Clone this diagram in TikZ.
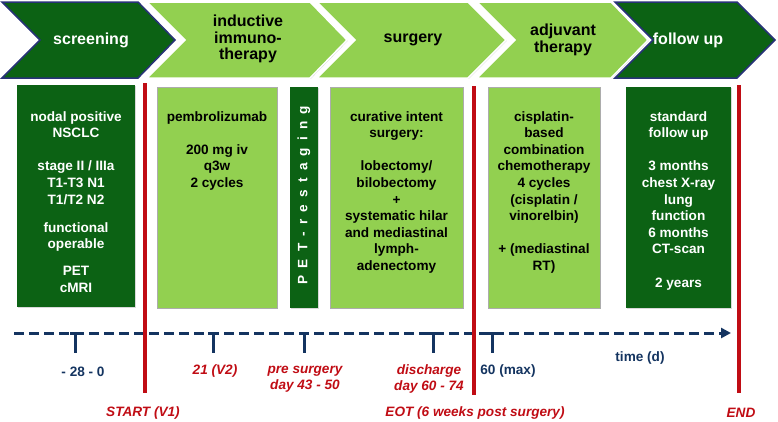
\documentclass[tikz,border=0pt]{standalone}
\usepackage{fontspec}
\setmainfont{Liberation Sans}
\usetikzlibrary{arrows.meta,shadows}
\definecolor{dkgreen}{RGB}{12,98,20}
\definecolor{ltgreen}{RGB}{146,208,80}
\definecolor{myred}{RGB}{192,12,20}
\definecolor{navy}{RGB}{20,52,96}
\definecolor{chevline}{RGB}{40,50,120}
\newcommand\lsp{\hspace{7.2pt}}
\begin{document}
\begin{tikzpicture}[x=1pt,y=-1pt,
  chevdark/.style={fill=dkgreen, draw=chevline, line width=1.5pt, line join=miter},
  chevlight/.style={fill=ltgreen, draw=white, line width=1.5pt, line join=miter,
     drop shadow={shadow xshift=0.8pt, shadow yshift=-0.8pt, opacity=0.35}},
  chevtxt/.style={font=\fontsize{16}{16.5}\selectfont\bfseries, align=center, inner sep=0pt},
  boxdark/.style={rectangle, fill=dkgreen, draw=none, inner sep=0pt,
     drop shadow={shadow xshift=0.8pt, shadow yshift=-0.8pt, opacity=0.3}},
  boxlight/.style={rectangle, fill=ltgreen, draw=gray!65, line width=0.6pt, inner sep=0pt,
     drop shadow={shadow xshift=0.8pt, shadow yshift=-0.8pt, opacity=0.3}},
  btxt/.style={font=\fontsize{13.6}{16.6}\selectfont\bfseries, align=center, inner sep=0pt, anchor=north},
  redline/.style={draw=myred, line width=4pt},
  tickmark/.style={draw=navy, line width=3pt},
  lblred/.style={text=myred, font=\fontsize{13.6}{16}\selectfont\bfseries\itshape, align=center, inner sep=0pt},
  lblblue/.style={text=navy, font=\fontsize{13.6}{16}\selectfont\bfseries, align=center, inner sep=0pt},
]
\useasboundingbox (0,0) rectangle (778,421);

% chevrons
\draw[chevdark] (2,2) -- (138,2) -- (175,40) -- (138,78) -- (2,78) -- (40,40) -- cycle;
\node[chevtxt, text=white] (cscreen) at (91,40) {screening};
\draw[chevlight] (147,2) -- (310,2) -- (347,40) -- (310,78) -- (147,78) -- (185,40) -- cycle;
\node[chevtxt] (cind) at (248,39) {inductive\\immuno-\\therapy};
\draw[chevlight] (317,2) -- (468,2) -- (506,40) -- (468,78) -- (317,78) -- (355,40) -- cycle;
\node[chevtxt] (csurg) at (413,40) {surgery};
\draw[chevlight] (477,2) -- (611,2) -- (648,40) -- (611,78) -- (477,78) -- (515,40) -- cycle;
\node[chevtxt] (cadj) at (563,40) {adjuvant\\therapy};
\draw[chevdark] (615,2) -- (737,2) -- (775,40) -- (737,78) -- (615,78) -- (653,40) -- cycle;
\node[chevtxt, text=white] (cfol) at (688,40) {follow up};

% boxes
\node[boxdark, minimum width=118pt, minimum height=222pt] (bscreen) at (76,196) {};
\node[boxlight, minimum width=120pt, minimum height=221pt] (bind) at (217,197.5) {};
\node[boxdark, minimum width=28pt, minimum height=221pt] (bpet) at (304,197.5) {};
\node[boxlight, minimum width=133pt, minimum height=221pt] (bsurg) at (396.5,197.5) {};
\node[boxlight, minimum width=112pt, minimum height=221pt] (badj) at (544,197.5) {};
\node[boxdark, minimum width=105pt, minimum height=221pt] (bfol) at (678.5,197.5) {};

\node[btxt, text=white] (tscreen) at (76,111) {nodal positive\\NSCLC\\[16.6pt]stage II / IIIa\\T1-T3 N1\\T1/T2 N2\\[11.4pt]functional\\operable\\[10.4pt]PET\\cMRI};
\node[btxt] (tind) at (217,111) {pembrolizumab\\[16.6pt]200 mg iv\\q3w\\2 cycles};
\node[font=\fontsize{13.6}{16}\selectfont\bfseries, text=white, rotate=90, inner sep=0pt] (tpet) at (304,195)
  {P\lsp E\lsp T\lsp -\lsp r\lsp e\lsp s\lsp t\lsp a\lsp g\lsp i\lsp n\lsp g};
\node[btxt] (tsurg) at (396.5,111) {curative intent\\surgery:\\[16.6pt]lobectomy/\\bilobectomy\\+\\systematic hilar\\and mediastinal\\lymph-\\adenectomy};
\node[btxt] (tadj) at (544,111) {cisplatin-\\based\\combination\\chemotherapy\\4 cycles\\(cisplatin /\\vinorelbin)\\[16.6pt]+ (mediastinal\\RT)};
\node[btxt, text=white] (tfol) at (678.5,111) {standard\\follow up\\[16.6pt]3 months\\chest X-ray\\lung\\function\\6 months\\CT-scan\\[16.6pt]2 years};

% timeline
\coordinate (ts) at (14,333);
\coordinate (te) at (731,333);
\draw[navy, line width=3pt, dash pattern=on 10pt off 5pt, -{Triangle[length=10pt,width=10pt]}] (ts) -- (te);
\foreach \k/\xx in {k1/75, k2/213, k3/304, k4/433, k5/492} {
  \coordinate (\k) at (\xx,333);
  \draw[tickmark] ([xshift=-5pt]\k) -- ([xshift=5pt]\k) (\k) -- ++(0,20);
}

% red lines
\coordinate (r1t) at (145,83);  \coordinate (r1b) at (145,393);
\coordinate (r2t) at (474,86);  \coordinate (r2b) at (474,395);
\coordinate (r3t) at (739,85);  \coordinate (r3b) at (739,393);
\draw[redline] (r1t) -- (r1b);
\draw[redline] (r2t) -- (r2b);
\draw[redline] (r3t) -- (r3b);

% labels
\node[lblblue] (l1) at (83,372) {- 28 - 0};
\node[lblred] (l2) at (215,371) {21 (V2)};
\node[lblred] (l3) at (305,379) {pre surgery\\day 43 - 50};
\node[lblred] (l4) at (429,379) {discharge\\day 60 - 74};
\node[lblblue] (l5) at (508,371) {60 (max)};
\node[lblblue] (l6) at (640,358) {time (d)};
\node[lblred] (l7) at (143,413) {START (V1)};
\node[lblred] (l8) at (475,413) {EOT (6 weeks post surgery)};
\node[lblred] (l9) at (741,413) {END};
\end{tikzpicture}
\end{document}
